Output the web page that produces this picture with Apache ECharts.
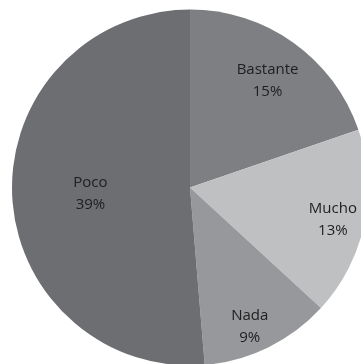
<!DOCTYPE html>
<html>
<head>
<meta charset="utf-8">
<style>
  html, body { margin: 0; padding: 0; background: #ffffff; }
  #chart { width: 361px; height: 364px; }
</style>
<script src="https://cdn.jsdelivr.net/npm/echarts@6/dist/echarts.min.js"></script>
</head>
<body>
<div id="chart"></div>
<script>
// Response categories, clockwise from 12 o'clock
const categories = ['Bastante', 'Mucho', 'Nada', 'Poco'];
// Share of responses (%)
const values = [15, 13, 9, 39];

// Slice fills, how far out (fraction of radius) each label sits,
// and a small angular nudge (degrees) for each label
const sliceColors = ['#7e7f83', '#bfc0c2', '#97989b', '#6d6e72'];
const labelRadius = [0.75, 0.82, 0.84, 0.56];
const labelTurn = [0, 0, 2.5, 0];

const CX = 190, CY = 187.5, R = 178;

const total = values.reduce((a, b) => a + b, 0);
// mid angle of each slice, clockwise from top, in radians
const midAngles = [];
let acc = 0;
values.forEach((v, i) => {
  midAngles.push(((acc + v / 2) / total) * 2 * Math.PI + labelTurn[i] * Math.PI / 180);
  acc += v;
});

const chart = echarts.init(document.getElementById('chart'), null, { renderer: 'canvas' });
chart.setOption({
  animation: false,
  series: [{
    type: 'pie',
    center: [CX, CY],
    radius: [0, R],
    startAngle: 90,
    clockwise: true,
    avoidLabelOverlap: false,
    silent: true,
    data: categories.map((name, i) => ({
      name,
      value: values[i],
      itemStyle: { color: sliceColors[i] }
    })),
    itemStyle: { borderWidth: 0 },
    label: {
      show: true,
      position: 'inside',
      formatter: p => p.name + '\n' + p.value + '%',
      fontFamily: 'Open Sans',
      fontSize: 15,
      lineHeight: 22,
      color: '#1e1e1e',
      align: 'center'
    },
    labelLine: { show: false },
    labelLayout: params => {
      const i = params.dataIndex;
      const a = midAngles[i];
      const f = labelRadius[i];
      return {
        x: CX + f * R * Math.sin(a),
        y: CY + 2 - f * R * Math.cos(a),
        align: 'center',
        verticalAlign: 'middle'
      };
    }
  }]
});
</script>
</body>
</html>
